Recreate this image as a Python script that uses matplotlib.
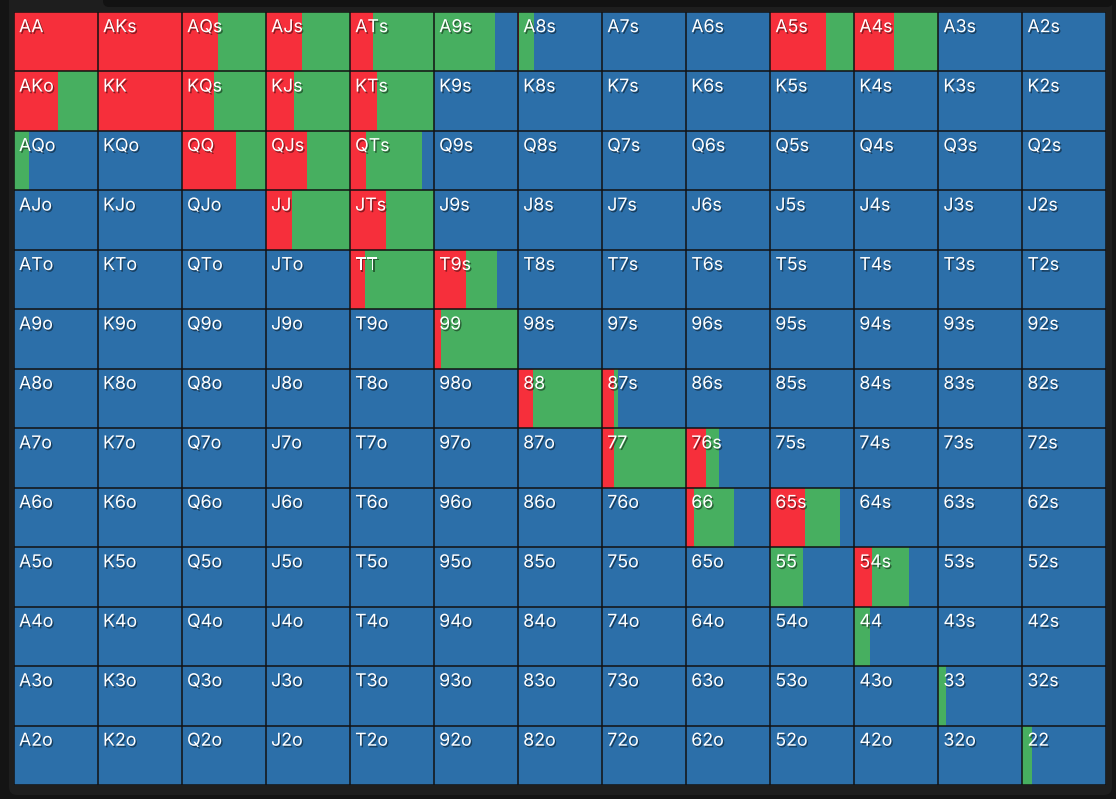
import matplotlib
matplotlib.use("Agg")
import matplotlib.pyplot as plt
import matplotlib.patheffects as pe
from matplotlib.patches import FancyBboxPatch

ranks = ["A", "K", "Q", "J", "T", "9", "8", "7", "6", "5", "4", "3", "2"]

# raise / call frequencies per hand (anything left over is fold)
raise_freq = {
    "AA": 1.0, "AKs": 1.0, "AQs": 0.43, "AJs": 0.43, "ATs": 0.28, "A8s": 0.01,
    "A5s": 0.665, "A4s": 0.48,
    "AKo": 0.53, "KK": 1.0, "KQs": 0.39, "KJs": 0.34, "KTs": 0.33,
    "QQ": 0.65, "QJs": 0.49, "QTs": 0.20,
    "JJ": 0.31, "JTs": 0.43,
    "TT": 0.18, "T9s": 0.38,
    "99": 0.09,
    "88": 0.18, "87s": 0.15,
    "77": 0.15, "76s": 0.24,
    "66": 0.10, "65s": 0.42,
    "54s": 0.22,
}
call_freq = {
    "AQs": 0.57, "AJs": 0.57, "ATs": 0.72, "A9s": 0.73, "A8s": 0.18,
    "A5s": 0.335, "A4s": 0.52,
    "AKo": 0.47, "KQs": 0.61, "KJs": 0.66, "KTs": 0.67,
    "AQo": 0.18, "QQ": 0.35, "QJs": 0.51, "QTs": 0.66,
    "JJ": 0.69, "JTs": 0.57,
    "TT": 0.82, "T9s": 0.37,
    "99": 0.91,
    "88": 0.82, "87s": 0.04,
    "77": 0.85, "76s": 0.15,
    "66": 0.47, "65s": 0.42,
    "55": 0.40, "54s": 0.44,
    "44": 0.19, "33": 0.10, "22": 0.12,
}

RED = "#F62F3B"
GREEN = "#47AF60"
BLUE = "#2C6FA9"


def hand_name(i, j):
    if i == j:
        return ranks[i] + ranks[j]
    if j > i:
        return ranks[i] + ranks[j] + "s"
    return ranks[j] + ranks[i] + "o"


W, H = 1116, 799
fig = plt.figure(figsize=(W / 100, H / 100), dpi=100)
fig.patch.set_facecolor("#141414")

# panel behind the grid
bg = fig.add_axes([0, 0, 1, 1])
bg.set_xlim(0, W)
bg.set_ylim(H, 0)
bg.axis("off")
bg.add_patch(FancyBboxPatch((9, -10), 1103, 805, boxstyle="round,pad=0,rounding_size=8",
                            facecolor="#1e1e1e", edgecolor="none"))
bg.add_patch(FancyBboxPatch((103, -10), 1010, 17, boxstyle="round,pad=0,rounding_size=6",
                            facecolor="#121212", edgecolor="none"))

left, right, top, bottom = 13.5, 1106, 12, 785
ax = fig.add_axes([left / W, 1 - bottom / H, (right - left) / W, (bottom - top) / H])
ax.set_xlim(0, 13)
ax.set_ylim(13, 0)
ax.axis("off")

for i in range(13):
    for j in range(13):
        name = hand_name(i, j)
        r = raise_freq.get(name, 0.0)
        c = call_freq.get(name, 0.0)
        f = max(0.0, 1.0 - r - c)
        ax.barh(i + 0.5, r, height=1, left=j, color=RED, linewidth=0)
        ax.barh(i + 0.5, c, height=1, left=j + r, color=GREEN, linewidth=0)
        ax.barh(i + 0.5, f, height=1, left=j + r + c, color=BLUE, linewidth=0)
        ax.text(j + 0.065, i + 0.12, name, color="white", fontsize=12.8,
                family=["Inter", "DejaVu Sans"], ha="left", va="top",
                path_effects=[pe.withSimplePatchShadow(offset=(1, -1.2), shadow_rgbFace="black", alpha=0.45)])

ax.vlines(range(14), 0, 13, color="#121212", linewidth=1.1)
ax.hlines(range(14), 0, 13, color="#121212", linewidth=1.1)

fig.savefig("out.png", dpi=100, facecolor=fig.get_facecolor())
